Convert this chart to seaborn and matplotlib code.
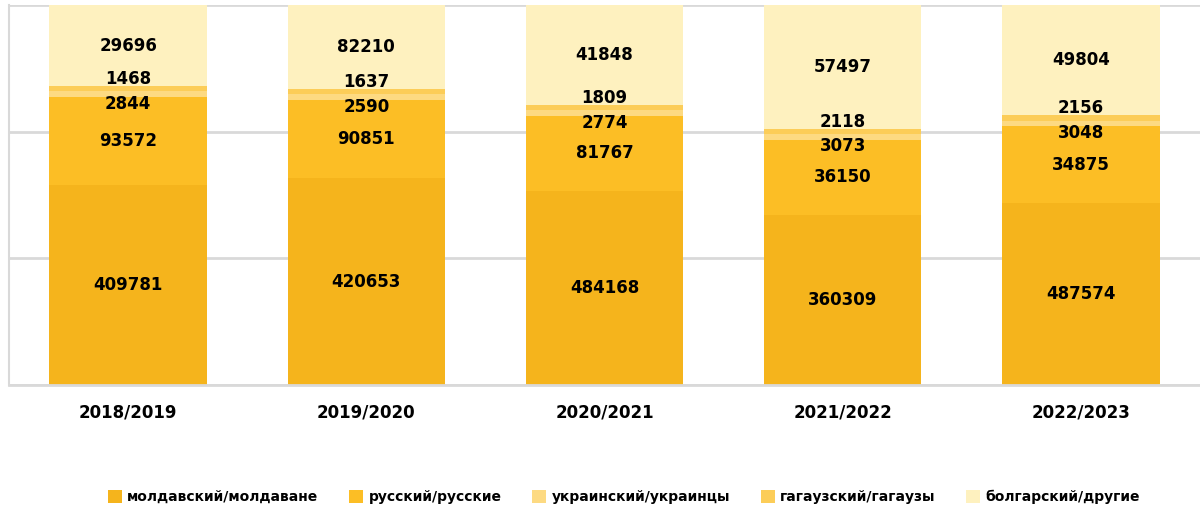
import matplotlib
matplotlib.use("Agg")
import matplotlib.pyplot as plt
from matplotlib.patches import Patch
import numpy as np
import pandas as pd
import seaborn as sns

# ---- data ----
years = ["2018/2019", "2019/2020", "2020/2021", "2021/2022", "2022/2023"]
series_names = ["молдавский/молдаване", "русский/русские", "украинский/украинцы",
                "гагаузский/гагаузы", "болгарский/другие"]
# segment shares (%) as drawn
share_1 = [52.6, 54.4, 51.1, 44.7, 47.8]
share_2 = [23.2, 20.6, 19.7, 19.9, 20.3]
share_3 = [1.5, 1.5, 1.5, 1.5, 1.5]
share_4 = [1.3, 1.3, 1.4, 1.4, 1.4]
share_5 = [21.4, 22.2, 26.3, 32.5, 29.0]
# values printed on the segments
label_1 = [409781, 420653, 484168, 360309, 487574]
label_2 = [93572, 90851, 81767, 36150, 34875]
label_3 = [2844, 2590, 2774, 3073, 3048]
label_4 = [1468, 1637, 1809, 2118, 2156]
label_5 = [29696, 82210, 41848, 57497, 49804]

colors = ["#F5B41C", "#FCBE25", "#FDDA82", "#FCCD58", "#FEF1BF"]

shares = [share_1, share_2, share_3, share_4, share_5]
labels = [label_1, label_2, label_3, label_4, label_5]

sns.set_theme(style="white")
plt.rcParams["font.family"] = ["DejaVu Sans"]

fig = plt.figure(figsize=(12, 5.13), dpi=100)
ax = fig.add_axes([0.0075, 0.2495, 0.9925, 0.7405])

cum = np.cumsum(np.array(shares), axis=0)
for i in range(len(shares) - 1, -1, -1):
    df = pd.DataFrame({"year": years, "val": cum[i]})
    sns.barplot(data=df, x="year", y="val", color=colors[i], width=0.66,
                saturation=1, ax=ax, linewidth=0, zorder=2)

offsets = [0, 0, -7, 7, 0]
for i in range(len(shares)):
    for j in range(len(years)):
        bottom = cum[i - 1][j] if i > 0 else 0
        center = bottom + shares[i][j] / 2
        ax.annotate(str(labels[i][j]), (j, center), xytext=(0, offsets[i]),
                    textcoords="offset points", ha="center", va="center",
                    fontsize=12, fontweight="bold", color="black", zorder=5)

ax.set_xlim(-0.5, 4.5)
ax.set_ylim(0, 100)
ax.set_yticks([0, 100 / 3, 200 / 3, 100])
ax.set_yticklabels([])
ax.yaxis.grid(True, color="#D9D9D9", linewidth=2)
ax.set_axisbelow(True)
ax.set_xlabel("")
ax.set_ylabel("")
ax.tick_params(axis="x", length=0, pad=13, colors="black")
ax.tick_params(axis="y", length=0)
for lab in ax.get_xticklabels():
    lab.set_fontweight("bold")
    lab.set_fontsize(12)
    lab.set_color("black")
for s in ["top", "right"]:
    ax.spines[s].set_visible(False)
ax.spines["left"].set_color("#D9D9D9")
ax.spines["bottom"].set_color("#D9D9D9")
ax.spines["left"].set_linewidth(1.5)
ax.spines["bottom"].set_linewidth(2)

handles = [Patch(facecolor=c, edgecolor="none", label=n) for c, n in zip(colors, series_names)]
leg = fig.legend(handles=handles, loc="center", bbox_to_anchor=(0.52, 0.031), ncol=5,
                 frameon=False, handlelength=1.0, handleheight=1.0, handletextpad=0.4,
                 columnspacing=2.2, prop={"weight": "bold", "size": 10})
for t in leg.get_texts():
    t.set_color("black")

fig.savefig("out.png", dpi=100, facecolor="white")
